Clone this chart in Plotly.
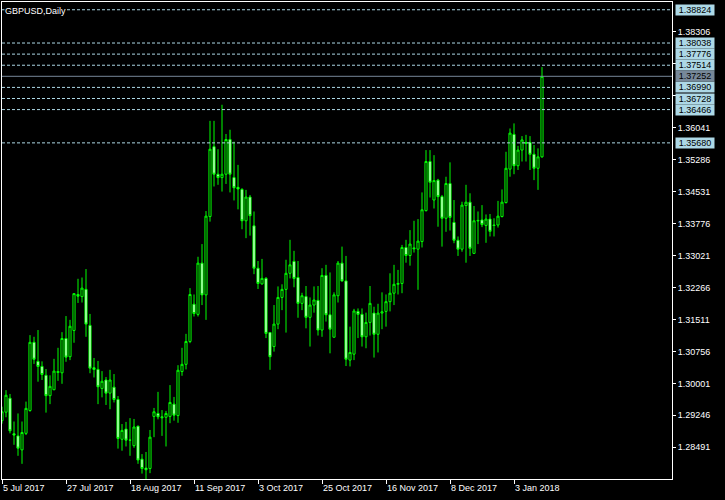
import pandas as pd
import plotly.graph_objects as go

# ---------------- data ----------------
holidays = ["2017-12-25", "2018-01-01"]
days = pd.bdate_range("2017-07-05", "2018-01-12")
days = [d.strftime("%Y-%m-%d") for d in days if d.strftime("%Y-%m-%d") not in holidays]

opens = [1.2912, 1.2932, 1.2965, 1.2881, 1.2876, 1.2843, 1.2882, 1.2936, 1.3097, 1.3052,
         1.3040, 1.3019, 1.2971, 1.2985, 1.3028, 1.3025, 1.3106, 1.3063, 1.3125, 1.3210,
         1.3205, 1.3222, 1.3137, 1.3037, 1.3033, 1.2988, 1.3008, 1.2977, 1.2991, 1.2962,
         1.2868, 1.2892, 1.2866, 1.2853, 1.2899, 1.2821, 1.2800, 1.2799, 1.2922, 1.2929,
         1.2921, 1.2920, 1.2922, 1.2951, 1.2924, 1.3028, 1.3045, 1.3099, 1.3187, 1.3163,
         1.3284, 1.3209, 1.3394, 1.3559, 1.3494, 1.3486, 1.3494, 1.3576, 1.3486, 1.3463,
         1.3458, 1.3384, 1.3440, 1.3372, 1.3272, 1.3235, 1.3248, 1.3120, 1.3087, 1.3140,
         1.3203, 1.3222, 1.3260, 1.3288, 1.3250, 1.3189, 1.3205, 1.3156, 1.3185, 1.3196,
         1.3126, 1.3255, 1.3162, 1.3109, 1.3207, 1.3284, 1.3242, 1.3055, 1.3069, 1.3170,
         1.3163, 1.3110, 1.3144, 1.3166, 1.3116, 1.3166, 1.3170, 1.3193, 1.3213, 1.3234,
         1.3236, 1.3321, 1.3302, 1.3320, 1.3317, 1.3335, 1.3408, 1.3524, 1.3433, 1.3480,
         1.3441, 1.3390, 1.3472, 1.3380, 1.3338, 1.3317, 1.3420, 1.3428, 1.3307, 1.3385,
         1.3386, 1.3373, 1.3388, 1.3374, 1.3374, 1.3394, 1.3427, 1.3506, 1.3588, 1.3514,
         1.3551, 1.3569, 1.3569, 1.3541, 1.3508, 1.3535]
highs = [1.2945, 1.2984, 1.2975, 1.2910, 1.2929, 1.2910, 1.2957, 1.3114, 1.3110, 1.3126,
         1.3052, 1.3034, 1.3019, 1.3058, 1.3084, 1.3121, 1.3159, 1.3150, 1.3213, 1.3247,
         1.3250, 1.3270, 1.3164, 1.3060, 1.3053, 1.3029, 1.3015, 1.3032, 1.3022, 1.2970,
         1.2904, 1.2909, 1.2918, 1.2916, 1.2900, 1.2833, 1.2838, 1.2890, 1.2942, 1.2980,
         1.2937, 1.2935, 1.2996, 1.2968, 1.3043, 1.3084, 1.3117, 1.3225, 1.3210, 1.3299,
         1.3329, 1.3407, 1.3620, 1.3620, 1.3553, 1.3658, 1.3589, 1.3599, 1.3571, 1.3516,
         1.3461, 1.3457, 1.3445, 1.3406, 1.3289, 1.3294, 1.3251, 1.3121, 1.3185, 1.3229,
         1.3234, 1.3292, 1.3339, 1.3313, 1.3289, 1.3214, 1.3230, 1.3203, 1.3229, 1.3230,
         1.3272, 1.3280, 1.3262, 1.3215, 1.3289, 1.3323, 1.3301, 1.3134, 1.3176, 1.3177,
         1.3177, 1.3167, 1.3230, 1.3181, 1.3188, 1.3215, 1.3210, 1.3260, 1.3280, 1.3268,
         1.3327, 1.3339, 1.3362, 1.3384, 1.3388, 1.3451, 1.3551, 1.3551, 1.3539, 1.3483,
         1.3445, 1.3488, 1.3522, 1.3433, 1.3347, 1.3429, 1.3469, 1.3449, 1.3419, 1.3406,
         1.3421, 1.3399, 1.3400, 1.3390, 1.3431, 1.3458, 1.3547, 1.3602, 1.3614, 1.3561,
         1.3584, 1.3587, 1.3584, 1.3563, 1.3555, 1.3747]
lows = [1.2905, 1.2920, 1.2882, 1.2855, 1.2829, 1.2810, 1.2878, 1.2933, 1.3046, 1.3004,
        1.3008, 1.2931, 1.2951, 1.2984, 1.3006, 1.2999, 1.3051, 1.3055, 1.3096, 1.3190,
        1.3191, 1.3110, 1.3024, 1.3014, 1.2951, 1.2967, 1.2949, 1.2939, 1.2955, 1.2846,
        1.2841, 1.2851, 1.2829, 1.2848, 1.2810, 1.2787, 1.2774, 1.2788, 1.2873, 1.2915,
        1.2876, 1.2851, 1.2906, 1.2912, 1.2907, 1.3018, 1.3033, 1.3095, 1.3158, 1.3158,
        1.3185, 1.3150, 1.3382, 1.3465, 1.3469, 1.3453, 1.3471, 1.3451, 1.3432, 1.3411,
        1.3364, 1.3343, 1.3349, 1.3258, 1.3223, 1.3233, 1.3107, 1.3032, 1.3075, 1.3128,
        1.3173, 1.3120, 1.3248, 1.3227, 1.3155, 1.3173, 1.3130, 1.3087, 1.3167, 1.3113,
        1.3110, 1.3146, 1.3071, 1.3109, 1.3191, 1.3240, 1.3041, 1.3040, 1.3055, 1.3107,
        1.3087, 1.3083, 1.3113, 1.3061, 1.3073, 1.3128, 1.3134, 1.3170, 1.3185, 1.3210,
        1.3213, 1.3285, 1.3278, 1.3309, 1.3221, 1.3321, 1.3406, 1.3439, 1.3413, 1.3370,
        1.3323, 1.3358, 1.3361, 1.3331, 1.3301, 1.3311, 1.3285, 1.3301, 1.3306, 1.3329,
        1.3369, 1.3332, 1.3347, 1.3347, 1.3368, 1.3392, 1.3425, 1.3488, 1.3494, 1.3504,
        1.3524, 1.3524, 1.3504, 1.3480, 1.3457, 1.3533]
closes = [1.2933, 1.2972, 1.2888, 1.2878, 1.2847, 1.2884, 1.2941, 1.3097, 1.3057, 1.3040,
          1.3021, 1.2971, 1.2993, 1.3029, 1.3026, 1.3106, 1.3062, 1.3135, 1.3212, 1.3206,
          1.3225, 1.3140, 1.3036, 1.3033, 1.2992, 1.3005, 1.2977, 1.3008, 1.2962, 1.2870,
          1.2889, 1.2866, 1.2866, 1.2897, 1.2819, 1.2799, 1.2796, 1.2873, 1.2933, 1.2921,
          1.2919, 1.2929, 1.2955, 1.2925, 1.3031, 1.3045, 1.3099, 1.3210, 1.3165, 1.3284,
          1.3209, 1.3395, 1.3553, 1.3494, 1.3486, 1.3494, 1.3576, 1.3494, 1.3462, 1.3459,
          1.3384, 1.3440, 1.3396, 1.3272, 1.3236, 1.3248, 1.3118, 1.3063, 1.3140, 1.3203,
          1.3222, 1.3260, 1.3280, 1.3248, 1.3189, 1.3207, 1.3156, 1.3185, 1.3197, 1.3126,
          1.3255, 1.3162, 1.3128, 1.3209, 1.3284, 1.3242, 1.3057, 1.3073, 1.3171, 1.3163,
          1.3110, 1.3144, 1.3189, 1.3116, 1.3166, 1.3169, 1.3193, 1.3213, 1.3234, 1.3236,
          1.3321, 1.3302, 1.3329, 1.3318, 1.3336, 1.3410, 1.3524, 1.3475, 1.3479, 1.3441,
          1.3390, 1.3472, 1.3392, 1.3338, 1.3317, 1.3421, 1.3428, 1.3319, 1.3384, 1.3384,
          1.3375, 1.3388, 1.3359, 1.3373, 1.3395, 1.3428, 1.3508, 1.3591, 1.3514, 1.3551,
          1.3575, 1.3567, 1.3541, 1.3508, 1.3535, 1.3725]

date_labels = ["5 Jul 2017", "27 Jul 2017", "18 Aug 2017", "11 Sep 2017", "3 Oct 2017",
               "25 Oct 2017", "16 Nov 2017", "8 Dec 2017", "3 Jan 2018"]
label_every = 16

price_ticks = [1.38306, 1.37551, 1.36796, 1.36041, 1.35286, 1.34531, 1.33776, 1.33021,
               1.32266, 1.31511, 1.30756, 1.30001, 1.29246, 1.28491]
hidden_ticks = [1.37551, 1.36796]

level_lines = [1.38824, 1.38038, 1.37776, 1.37514, 1.36990, 1.36728, 1.36466, 1.35680]
bid_price = 1.37252

y_range = [1.27742, 1.39007]
x_range = [0, 167.5]

# ---------------- figure ----------------
FONT = "Liberation Sans, Arial, sans-serif"
GREEN = "#00FF00"
LEVEL_BLUE = "#ADD8E6"
BID_GREY = "#778899"

fig = go.Figure()
fig.add_trace(go.Candlestick(
    x=days, open=opens, high=highs, low=lows, close=closes,
    increasing=dict(line=dict(color=GREEN, width=1), fillcolor="black"),
    decreasing=dict(line=dict(color=GREEN, width=1), fillcolor="white"),
    whiskerwidth=0, hoverinfo="skip", showlegend=False,
))

shapes = []
for lv in level_lines:
    shapes.append(dict(type="line", xref="paper", x0=0, x1=1, yref="y", y0=lv, y1=lv,
                       line=dict(color=LEVEL_BLUE, width=1, dash="3px,2px"), layer="above"))
shapes.append(dict(type="line", xref="paper", x0=0, x1=1, yref="y", y0=bid_price, y1=bid_price,
                   line=dict(color=BID_GREY, width=1), layer="above"))

annotations = []
for lv in level_lines:
    annotations.append(dict(xref="paper", x=1, xanchor="left", xshift=3, yref="y", y=lv,
                            yanchor="middle", text=f"{lv:.5f}", showarrow=False,
                            bgcolor=LEVEL_BLUE, font=dict(family=FONT, size=9, color="black"),
                            width=38, height=10, borderpad=0, align="center"))
annotations.append(dict(xref="paper", x=1, xanchor="left", xshift=3, yref="y", y=bid_price,
                        yanchor="middle", text=f"{bid_price:.5f}", showarrow=False,
                        bgcolor=BID_GREY, font=dict(family=FONT, size=9, color="black"),
                        width=38, height=10, borderpad=0, align="center"))
annotations.append(dict(xref="paper", x=0, xanchor="left", xshift=2, yref="paper", y=1,
                        yanchor="top", yshift=-3, text="GBPUSD,Daily", showarrow=False,
                        bgcolor="black", font=dict(family=FONT, size=9, color="white"),
                        borderpad=0))

tick_idx = [k * label_every for k in range(len(date_labels))]
y_text = ["" if t in hidden_ticks else f"{t:.5f}" for t in price_ticks]

fig.update_layout(
    width=725, height=500,
    margin=dict(l=2, r=53, t=2, b=21, pad=0),
    paper_bgcolor="black", plot_bgcolor="black",
    font=dict(family=FONT, size=9, color="white"),
    boxgap=0.25,
    shapes=shapes, annotations=annotations,
    xaxis=dict(type="category", categoryorder="array", categoryarray=days,
               range=x_range, rangeslider=dict(visible=False),
               showgrid=False, zeroline=False,
               showline=True, linecolor="white", linewidth=1, mirror=True,
               ticks="outside", ticklen=4, tickcolor="white", tickwidth=1,
               tickmode="array", tickvals=[days[i] for i in tick_idx], ticktext=date_labels,
               ticklabelposition="outside right",
               tickfont=dict(family=FONT, size=9, color="white")),
    yaxis=dict(side="right", range=y_range, showgrid=False, zeroline=False,
               showline=True, linecolor="white", linewidth=1, mirror=True,
               ticks="outside", ticklen=3, tickcolor="white", tickwidth=1,
               tickmode="array", tickvals=price_ticks, ticktext=y_text,
               tickfont=dict(family=FONT, size=9, color="white")),
    hovermode=False,
)

fig.write_html(
    "out.html",
    config={"displayModeBar": False},
    post_script="document.body.style.margin='0';document.body.style.background='black';"
                "document.body.style.overflow='hidden';",
)
